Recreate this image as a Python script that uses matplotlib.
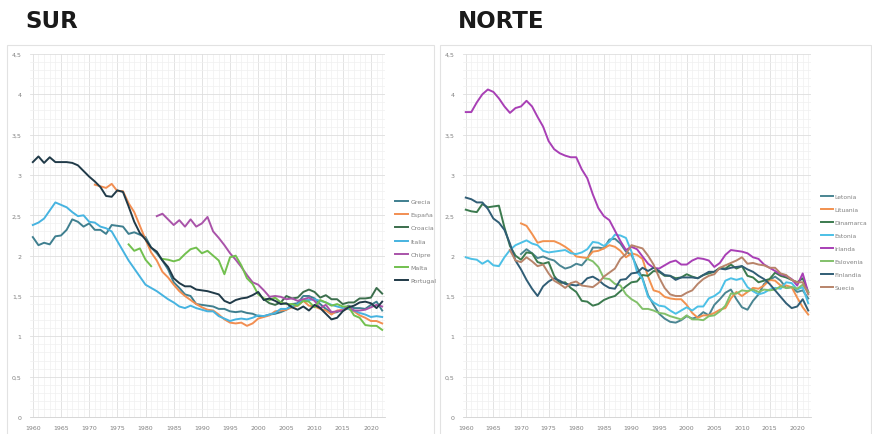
import numpy as np
import matplotlib
matplotlib.use("Agg")
import matplotlib.pyplot as plt
from matplotlib.patches import Rectangle
from matplotlib.ticker import MultipleLocator, FuncFormatter

# ---------------- DATA ----------------
# SUR
grecia_start = 1960
grecia = [2.23, 2.13, 2.16, 2.14, 2.24, 2.25, 2.32, 2.45, 2.42, 2.36,
          2.40, 2.32, 2.32, 2.27, 2.38, 2.37, 2.36, 2.27, 2.29, 2.26,
          2.23, 2.10, 2.03, 1.94, 1.83, 1.67, 1.60, 1.52, 1.50, 1.40,
          1.39, 1.38, 1.37, 1.34, 1.34, 1.31, 1.30, 1.31, 1.29, 1.28,
          1.25, 1.25, 1.27, 1.28, 1.30, 1.33, 1.40, 1.41, 1.50, 1.50,
          1.47, 1.40, 1.34, 1.29, 1.30, 1.33, 1.38, 1.35, 1.35, 1.34,
          1.39, 1.43, 1.32]
espana_start = 1971
espana = [2.88, 2.86, 2.84, 2.89, 2.80, 2.80, 2.65, 2.54, 2.37,
          2.20, 2.04, 1.94, 1.80, 1.73, 1.64, 1.56, 1.50, 1.45, 1.40,
          1.36, 1.33, 1.32, 1.27, 1.21, 1.17, 1.16, 1.17, 1.13, 1.16,
          1.22, 1.24, 1.26, 1.31, 1.32, 1.33, 1.36, 1.38, 1.44, 1.38,
          1.37, 1.34, 1.32, 1.27, 1.32, 1.33, 1.34, 1.31, 1.26, 1.23,
          1.19, 1.19, 1.16]
croacia_start = 2001
croacia = [1.46, 1.41, 1.39, 1.42, 1.50, 1.47, 1.48, 1.55, 1.58,
           1.55, 1.48, 1.51, 1.46, 1.46, 1.40, 1.42, 1.42, 1.47, 1.47,
           1.48, 1.60, 1.53]
italia_start = 1960
italia = [2.38, 2.41, 2.46, 2.56, 2.66, 2.63, 2.60, 2.54, 2.49, 2.50,
          2.42, 2.41, 2.36, 2.34, 2.30, 2.18, 2.06, 1.94, 1.84, 1.74,
          1.64, 1.60, 1.56, 1.51, 1.46, 1.42, 1.37, 1.35, 1.38, 1.35,
          1.33, 1.31, 1.31, 1.25, 1.22, 1.19, 1.21, 1.22, 1.21, 1.23,
          1.26, 1.25, 1.27, 1.29, 1.34, 1.34, 1.37, 1.40, 1.45, 1.45,
          1.46, 1.44, 1.42, 1.39, 1.37, 1.35, 1.34, 1.32, 1.29, 1.27,
          1.24, 1.25, 1.24]
chipre_start = 1982
chipre = [2.49, 2.52, 2.45, 2.38, 2.44, 2.36, 2.45, 2.36, 2.40, 2.48,
          2.30, 2.22, 2.13, 2.03, 1.95, 1.86, 1.76, 1.67,
          1.64, 1.57, 1.49, 1.50, 1.49, 1.46, 1.47, 1.44, 1.46, 1.48,
          1.44, 1.35, 1.39, 1.30, 1.31, 1.32, 1.37, 1.32, 1.32, 1.33,
          1.36, 1.39, 1.37]
malta_start = 1977
malta = [2.14, 2.06, 2.09, 1.95, 1.87, None,
         1.96, 1.95, 1.93, 1.95, 2.02, 2.08, 2.10,
         2.03, 2.06, 2.00, 1.94, 1.77, 1.98, 2.00, 1.88, 1.72, 1.65,
         1.52, 1.47, 1.45, 1.48, 1.42, 1.40, 1.40, 1.38, 1.44, 1.43,
         1.36, 1.45, 1.42, 1.38, 1.40, 1.37, 1.37, 1.26, 1.23, 1.14,
         1.13, 1.13, 1.08]
portugal_start = 1960
portugal = [3.16, 3.23, 3.15, 3.22, 3.16, 3.16, 3.16, 3.15, 3.12, 3.05,
            2.98, 2.92, 2.85, 2.74, 2.73, 2.81, 2.79, 2.61, 2.42, 2.28,
            2.20, 2.10, 2.05, 1.94, 1.86, 1.72, 1.66, 1.62, 1.62, 1.58,
            1.57, 1.56, 1.54, 1.52, 1.44, 1.41, 1.45, 1.47, 1.48, 1.51,
            1.55, 1.45, 1.47, 1.44, 1.40, 1.41, 1.36, 1.33, 1.37, 1.32,
            1.39, 1.35, 1.28, 1.21, 1.23, 1.31, 1.36, 1.38, 1.42, 1.43,
            1.41, 1.35, 1.43]

# NORTE
letonia_start = 1970
letonia = [2.02, 2.08, 2.03, 1.97, 1.99, 1.96, 1.94, 1.88, 1.84, 1.86,
           1.90, 1.88, 1.96, 2.10, 2.10, 2.09, 2.20, 2.21, 2.15, 2.05,
           2.01, 1.86, 1.72, 1.51, 1.39, 1.28, 1.22, 1.18, 1.17, 1.20,
           1.25, 1.22, 1.24, 1.30, 1.26, 1.39, 1.46, 1.54, 1.58, 1.46,
           1.36, 1.33, 1.44, 1.52, 1.65, 1.70, 1.74, 1.69, 1.60, 1.61,
           1.55, 1.57, 1.47]
lituania_start = 1970
lituania = [2.40, 2.37, 2.27, 2.16, 2.18, 2.18, 2.18, 2.15, 2.11, 2.06,
            1.99, 1.98, 1.97, 2.05, 2.06, 2.09, 2.13, 2.11, 2.06, 1.98,
            2.03, 2.01, 1.96, 1.74, 1.57, 1.55, 1.49, 1.47, 1.46, 1.46,
            1.39, 1.29, 1.23, 1.26, 1.26, 1.29, 1.33, 1.35, 1.47, 1.55,
            1.50, 1.55, 1.60, 1.59, 1.63, 1.70, 1.69, 1.63, 1.63, 1.61,
            1.48, 1.36, 1.27]
dinamarca_start = 1960
dinamarca = [2.57, 2.55, 2.54, 2.64, 2.60, 2.61, 2.62, 2.35, 2.12, 2.00,
             1.95, 2.04, 2.03, 1.92, 1.90, 1.92, 1.75, 1.66, 1.67, 1.60,
             1.55, 1.44, 1.43, 1.38, 1.40, 1.45, 1.48, 1.50, 1.56, 1.62,
             1.67, 1.68, 1.76, 1.75, 1.81, 1.80, 1.75, 1.75, 1.72, 1.73,
             1.77, 1.74, 1.72, 1.76, 1.78, 1.80, 1.85, 1.84, 1.89, 1.84,
             1.87, 1.75, 1.73, 1.67, 1.69, 1.71, 1.79, 1.75, 1.73, 1.70,
             1.67, 1.72, 1.55]
estonia_start = 1960
estonia = [1.98, 1.96, 1.95, 1.90, 1.94, 1.88, 1.87, 1.98, 2.07, 2.13,
           2.16, 2.19, 2.15, 2.13, 2.06, 2.04, 2.05, 2.06, 2.07, 2.03,
           2.02, 2.04, 2.08, 2.17, 2.16, 2.12, 2.17, 2.26, 2.25, 2.22,
           2.05, 1.80, 1.71, 1.49, 1.42, 1.38, 1.37, 1.32, 1.28, 1.32,
           1.36, 1.32, 1.37, 1.37, 1.47, 1.50, 1.55, 1.69, 1.72, 1.70,
           1.72, 1.61, 1.56, 1.52, 1.54, 1.58, 1.60, 1.59, 1.67, 1.66,
           1.58, 1.61, 1.41]
irlanda_start = 1960
irlanda = [3.78, 3.78, 3.90, 4.00, 4.06, 4.03, 3.95, 3.85, 3.77, 3.83,
           3.85, 3.92, 3.85, 3.72, 3.60, 3.42, 3.32, 3.27, 3.24, 3.22,
           3.22, 3.07, 2.96, 2.76, 2.59, 2.49, 2.44, 2.31, 2.18, 2.07,
           2.11, 2.08, 1.99, 1.90, 1.85, 1.84, 1.88, 1.92, 1.94, 1.89,
           1.89, 1.94, 1.97, 1.96, 1.94, 1.86, 1.91, 2.01, 2.07, 2.06,
           2.05, 2.03, 1.98, 1.96, 1.89, 1.85, 1.81, 1.77, 1.75, 1.71,
           1.63, 1.78, 1.54]
eslovenia_start = 1982
eslovenia = [1.96, 1.93, 1.86, 1.72, 1.71, 1.65, 1.63, 1.52,
             1.46, 1.42, 1.34, 1.34, 1.32, 1.29, 1.28, 1.25, 1.23, 1.21,
             1.26, 1.21, 1.21, 1.20, 1.25, 1.26, 1.31, 1.38, 1.53, 1.53,
             1.57, 1.56, 1.58, 1.55, 1.58, 1.57, 1.58, 1.62, 1.60, 1.61,
             1.59, 1.64, 1.55]
finlandia_start = 1960
finlandia = [2.72, 2.70, 2.66, 2.66, 2.58, 2.46, 2.41, 2.32, 2.15, 1.94,
             1.83, 1.70, 1.59, 1.50, 1.62, 1.68, 1.72, 1.69, 1.65, 1.64,
             1.63, 1.65, 1.72, 1.74, 1.70, 1.64, 1.60, 1.59, 1.70, 1.71,
             1.78, 1.79, 1.85, 1.81, 1.85, 1.81, 1.76, 1.75, 1.70, 1.73,
             1.73, 1.73, 1.72, 1.76, 1.80, 1.80, 1.84, 1.83, 1.85, 1.86,
             1.87, 1.83, 1.80, 1.75, 1.71, 1.65, 1.57, 1.49, 1.41, 1.35,
             1.37, 1.46, 1.32]
suecia_start = 1968
suecia = [2.07, 1.94,
          1.92, 1.98, 1.93, 1.87, 1.89, 1.78, 1.69, 1.65, 1.60, 1.66,
          1.68, 1.63, 1.62, 1.61, 1.66, 1.74, 1.79, 1.84, 1.96, 2.02,
          2.13, 2.11, 2.09, 2.00, 1.89, 1.73, 1.60, 1.52, 1.50, 1.50,
          1.54, 1.57, 1.65, 1.71, 1.75, 1.77, 1.85, 1.88, 1.91, 1.94,
          1.98, 1.90, 1.91, 1.89, 1.88, 1.85, 1.85, 1.78, 1.76, 1.70,
          1.67, 1.67, 1.52]

sur_labels = ["Grecia", "España", "Croacia", "Italia", "Chipre", "Malta", "Portugal"]
norte_labels = ["Letonia", "Lituania", "Dinamarca", "Estonia", "Irlanda",
                "Eslovenia", "Finlandia", "Suecia"]
sur_series = [(grecia_start, grecia), (espana_start, espana), (croacia_start, croacia),
              (italia_start, italia), (chipre_start, chipre), (malta_start, malta),
              (portugal_start, portugal)]
norte_series = [(letonia_start, letonia), (lituania_start, lituania),
                (dinamarca_start, dinamarca), (estonia_start, estonia),
                (irlanda_start, irlanda), (eslovenia_start, eslovenia),
                (finlandia_start, finlandia), (suecia_start, suecia)]
sur_colors = ["#3f7f8f", "#f28e52", "#3b6e4c", "#46b3e0", "#a953a9", "#72c04f", "#203a48"]
norte_colors = ["#4a8592", "#f2914f", "#3b7a4e", "#4cc0e6", "#a83fb5",
                "#82c06a", "#305d75", "#b8846a"]
year_ticks = list(range(1960, 2021, 5))

# ---------------- PLOT ----------------
W, H = 872, 435
fig = plt.figure(figsize=(W / 100, H / 100), dpi=100)
fig.patch.set_facecolor("white")

# chart-area frames
for x0, x1 in [(7, 434), (440, 871)]:
    fig.add_artist(Rectangle((x0 / W, -0.02), (x1 - x0) / W, (H - 46) / H + 0.02,
                             transform=fig.transFigure, fill=False,
                             ec="#e2e2e2", lw=0.8))

def fmt(v, pos):
    s = ("%.1f" % v).rstrip("0").rstrip(".")
    return s.replace(".", ",")

def setup(ax):
    ax.set_xlim(1959.5, 2022.5)
    ax.set_ylim(0, 4.5)
    ax.set_xticks(year_ticks)
    ax.xaxis.set_minor_locator(MultipleLocator(1))
    ax.yaxis.set_major_locator(MultipleLocator(0.5))
    ax.yaxis.set_minor_locator(MultipleLocator(0.1))
    ax.yaxis.set_major_formatter(FuncFormatter(fmt))
    ax.grid(which="major", color="#dedede", lw=0.6)
    ax.grid(which="minor", color="#f0f0f0", lw=0.5)
    ax.set_axisbelow(True)
    for s in ["top", "right", "left"]:
        ax.spines[s].set_visible(False)
    ax.spines["bottom"].set_color("#d0d0d0")
    ax.spines["bottom"].set_linewidth(0.6)
    ax.tick_params(which="both", length=0, labelsize=4.5, colors="#808080", pad=6)

def draw(ax, series, labels, colors):
    handles = []
    for (start, vals), lab, c in zip(series, labels, colors):
        y = np.array([np.nan if v is None else v for v in vals], dtype=float)
        x = np.arange(start, start + len(y))
        h, = ax.plot(x, y, color=c, lw=1.4, label=lab, solid_joinstyle="round")
        handles.append(h)
    return handles

axL = fig.add_axes([30 / W, 17 / H, 355 / W, 363 / H])
axR = fig.add_axes([463 / W, 17 / H, 348 / W, 363 / H])
for ax in (axL, axR):
    setup(ax)

hL = draw(axL, sur_series, sur_labels, sur_colors)
hR = draw(axR, norte_series, norte_labels, norte_colors)

fig.legend(handles=hL, loc="center left", bbox_to_anchor=(392 / W, 1 - 242 / H),
           frameon=False, fontsize=4.5, labelcolor="#808080", handlelength=2.1,
           handletextpad=0.3, labelspacing=1.25, borderpad=0)
fig.legend(handles=hR, loc="center left", bbox_to_anchor=(818 / W, 1 - 243 / H),
           frameon=False, fontsize=4.3, labelcolor="#808080", handlelength=2.0,
           handletextpad=0.25, labelspacing=1.3, borderpad=0)

fig.text(25 / W, 1 - 22 / H, "SUR", fontsize=16.5, fontweight="bold",
         color="#1a1a1a", ha="left", va="center")
fig.text(458 / W, 1 - 22 / H, "NORTE", fontsize=16.5, fontweight="bold",
         color="#1a1a1a", ha="left", va="center")

fig.savefig("out.png", dpi=100, facecolor="white")
